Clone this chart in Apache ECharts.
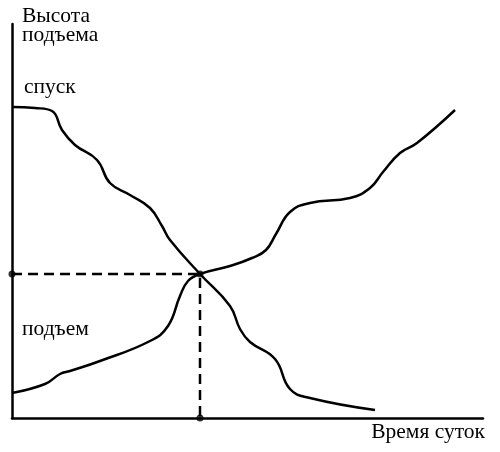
<!DOCTYPE html>
<html>
<head>
<meta charset="utf-8">
<script src="https://cdn.jsdelivr.net/npm/echarts@6/dist/echarts.min.js"></script>
<style>
  html, body { margin: 0; padding: 0; background: #fff; }
  #chart { width: 500px; height: 452px; }
</style>
</head>
<body>
<div id="chart"></div>
<script>
// schematic units: time along x, height along y
const descent = [
  [0, 311], [23, 310], [40, 307], [50, 288], [63, 273],
  [85, 258], [98, 235], [118, 223], [138, 210],
  [150, 192], [158, 178], [188, 144], [218, 112], [228, 89], [238, 76],
  [263, 59], [278, 29], [298, 20], [363, 8]
];
const ascent = [
  [0, 25], [33, 34], [48, 44], [58, 47], [88, 57], [138, 77], [156, 92],
  [168, 122], [176, 137], [188, 144], [218, 152], [240, 160],
  [254, 168], [264, 184], [278, 206], [298, 215], [338, 220], [358, 230],
  [371, 246], [388, 265], [405, 275], [443, 308]
];
const guide = [[0, 144], [188, 144], [188, 0]];
const markers = [[0, 144], [188, 144], [188, 0]];

const xMax = 471;
const yMax = 394;

const font = '"Liberation Serif", "DejaVu Serif", serif';
const chart = echarts.init(document.getElementById('chart'));

chart.setOption({
  animation: false,
  grid: { left: 12, right: 17, top: 24, bottom: 34 },
  xAxis: {
    type: 'value', min: 0, max: xMax,
    axisLine: { show: true, lineStyle: { color: '#000', width: 2.5 } },
    axisTick: { show: false }, axisLabel: { show: false }, splitLine: { show: false }
  },
  yAxis: {
    type: 'value', min: 0, max: yMax,
    axisLine: { show: true, lineStyle: { color: '#000', width: 2.5 } },
    axisTick: { show: false }, axisLabel: { show: false }, splitLine: { show: false }
  },
  graphic: [
    { type: 'text', left: 22, top: 5, style: { text: 'Высота\nподъема', font: '21.5px ' + font, fill: '#000', lineHeight: 19 } },
    { type: 'text', left: 24, top: 76, style: { text: 'спуск', font: '21.5px ' + font, fill: '#000' } },
    { type: 'text', left: 22, top: 318, style: { text: 'подъем', font: '21.5px ' + font, fill: '#000' } },
    { type: 'text', right: 15, top: 421, style: { text: 'Время суток', font: '21.5px ' + font, fill: '#000' } }
  ],
  series: [
    {
      name: 'спуск', type: 'line', data: descent, smooth: 0.45, showSymbol: false,
      lineStyle: { color: '#000', width: 2.5 }, z: 3
    },
    {
      name: 'подъем', type: 'line', data: ascent, smooth: 0.45, showSymbol: false,
      lineStyle: { color: '#000', width: 2.5 }, z: 3
    },
    {
      type: 'line', data: guide, showSymbol: false,
      lineStyle: { color: '#000', width: 2.5, type: [10, 6] }, z: 2
    },
    {
      type: 'scatter', data: markers, symbolSize: 7,
      itemStyle: { color: '#000' }, z: 4
    }
  ]
});
</script>
</body>
</html>
